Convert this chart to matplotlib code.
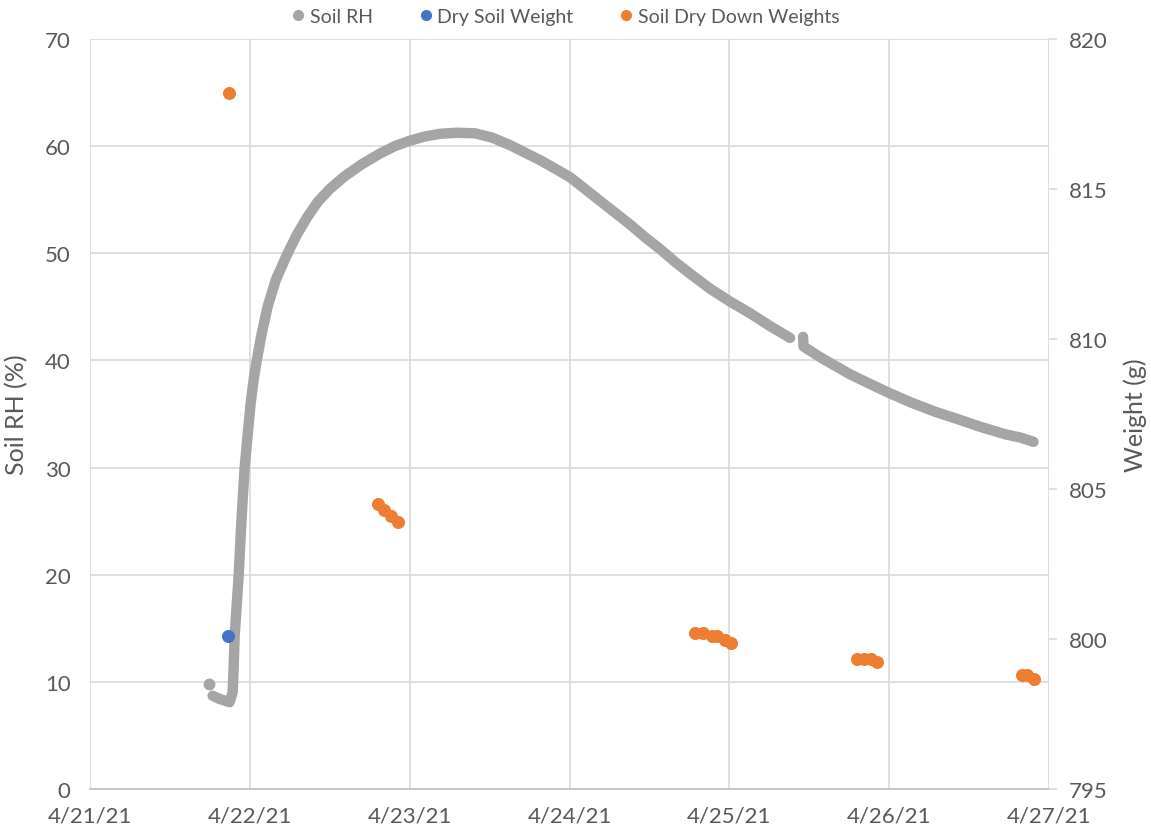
import numpy as np
import matplotlib
matplotlib.use('Agg')
from matplotlib import pyplot as plt
from matplotlib.lines import Line2D

# x values are days after 4/21/21 00:00
first_day = [0.742]
first_rh = [9.8]

rh_days = [0.767, 0.811, 0.873, 0.892, 0.898, 0.905, 0.917, 0.930, 0.942,
           0.955, 0.967, 0.986, 1.005, 1.024, 1.042, 1.074, 1.111, 1.162,
           1.230, 1.293, 1.356, 1.425, 1.500, 1.594, 1.700, 1.813, 1.907,
           2.000, 2.094, 2.189, 2.295, 2.408, 2.515, 2.627, 2.721, 2.815,
           2.910, 3.003, 3.097, 3.190, 3.284, 3.378, 3.472, 3.566, 3.660,
           3.754, 3.879, 4.004, 4.130, 4.255, 4.380, np.nan,
           4.461, 4.464, 4.568, 4.662, 4.756, 4.881, 4.994, 5.132, 5.289,
           5.433, 5.571, 5.727, 5.821, 5.903]
rh_values = [8.7, 8.4, 8.1, 9.0, 11.0, 14.3, 17.0, 19.9, 23.5,
             27.0, 29.9, 33.0, 36.0, 38.2, 39.9, 42.5, 45.0, 47.5,
             49.8, 51.7, 53.3, 54.8, 56.0, 57.2, 58.3, 59.3, 60.0,
             60.5, 60.9, 61.15, 61.25, 61.2, 60.8, 60.1, 59.4, 58.7,
             57.9, 57.1, 56.0, 54.9, 53.8, 52.7, 51.5, 50.4, 49.2,
             48.1, 46.7, 45.5, 44.4, 43.2, 42.1, np.nan,
             42.2, 41.3, 40.3, 39.5, 38.7, 37.8, 37.0, 36.1, 35.2,
             34.5, 33.8, 33.1, 32.8, 32.4]

dry_day = [0.861]
dry_weight = [800.1]

down_days = [0.867,
             1.800, 1.838, 1.882, 1.925,
             3.786, 3.836, 3.892, 3.923, 3.973, 4.011,
             4.800, 4.844, 4.887, 4.925,
             5.833, 5.864, 5.908]
down_weights = [818.2,
                804.5, 804.3, 804.1, 803.9,
                800.2, 800.2, 800.1, 800.1, 799.97, 799.87,
                799.33, 799.33, 799.33, 799.23,
                798.8, 798.8, 798.67]

date_labels = ['4/21/21', '4/22/21', '4/23/21', '4/24/21', '4/25/21',
               '4/26/21', '4/27/21']

GRAY = '#A5A5A5'
BLUE = '#4472C4'
ORANGE = '#ED7D31'
TEXT = '#595959'
GRID = '#D9D9D9'


def main():
  plt.rcParams['font.family'] = ['Lato', 'DejaVu Sans']
  fig = plt.figure(figsize=(11.51, 8.37), dpi=100)
  ax = fig.add_axes([0.0782, 0.0562, 0.8332, 0.896])
  ax2 = ax.twinx()

  ax.plot(rh_days, rh_values, '-', color=GRAY, lw=7.5,
          solid_capstyle='round', solid_joinstyle='round', zorder=3)
  ax.plot(first_day, first_rh, 'o', color=GRAY, ms=7.5, zorder=3)
  ax2.scatter(dry_day, dry_weight, s=70, color=BLUE, zorder=4)
  ax2.scatter(down_days, down_weights, s=70, color=ORANGE, zorder=4)

  ax.set_xlim(0, 6)
  ax.set_ylim(0, 70)
  ax2.set_ylim(795, 820)
  ax.set_xticks(range(len(date_labels)))
  ax.set_xticklabels(date_labels)
  ax.set_yticks(range(0, 71, 10))
  ax2.set_yticks(range(795, 821, 5))

  ax.grid(True, color=GRID, lw=1.2)
  ax.set_axisbelow(True)
  for a in (ax, ax2):
    for s in a.spines.values():
      s.set_visible(False)
  ax.spines['bottom'].set_visible(True)
  ax.spines['bottom'].set_color('#BFBFBF')
  ax.spines['bottom'].set_linewidth(1.2)

  ax.tick_params(axis='both', length=0, labelsize=16, labelcolor=TEXT)
  ax.tick_params(axis='y', pad=14)
  ax.tick_params(axis='x', pad=12)
  ax2.tick_params(axis='y', length=6, color=GRID, width=1.2, labelsize=16,
                  labelcolor=TEXT, pad=8)

  ax.set_ylabel('Soil RH (%)', fontsize=18, color=TEXT, labelpad=12)
  ax2.set_ylabel('Weight (g)', fontsize=18, color=TEXT, labelpad=12)

  handles = [
      Line2D([], [], ls='', marker='o', ms=7, color=GRAY),
      Line2D([], [], ls='', marker='o', ms=7, color=BLUE),
      Line2D([], [], ls='', marker='o', ms=7, color=ORANGE),
  ]
  fig.legend(handles, ['Soil RH', 'Dry Soil Weight', 'Soil Dry Down Weights'],
             loc='center', bbox_to_anchor=(0.49, 0.979), ncol=3,
             frameon=False, fontsize=14, labelcolor=TEXT, handletextpad=0.1,
             columnspacing=2.2, handlelength=1.0)

  fig.savefig('out.png', dpi=100)


if __name__ == '__main__':
  main()
